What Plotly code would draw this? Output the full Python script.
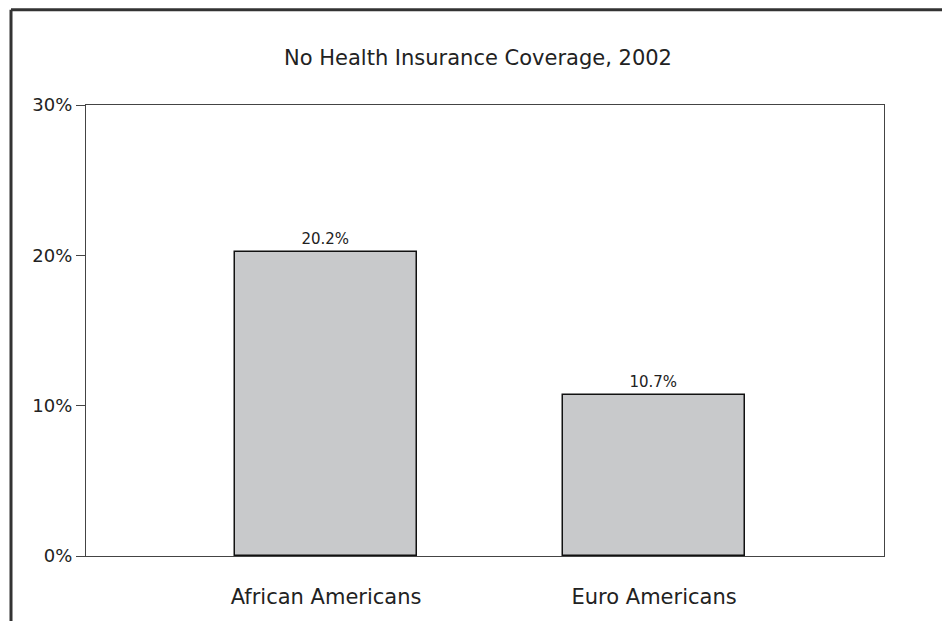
import plotly.graph_objects as go

categories = ["African Americans", "Euro Americans"]
values = [20.2, 10.7]
labels = ["20.2%", "10.7%"]
tick_vals = [0, 10, 20, 30]
tick_text = ["0%", "10%", "20%", "30%"]
title_text = "No Health Insurance Coverage, 2002"

FONT = "DejaVu Sans"
L, T, R, B = 86, 105, 58, 62
W, H = 942, 621
pw, ph = W - L - R, H - T - B

fig = go.Figure()
fig.add_trace(go.Bar(
    x=list(range(len(categories))), y=values, width=0.555,
    marker=dict(color="#c8c9cb", line=dict(color="#111111", width=1.5)),
    text=labels, textposition="outside", cliponaxis=False,
    textfont=dict(family=FONT, size=15, color="#222222"),
    showlegend=False, hoverinfo="skip",
))

fig.update_layout(
    width=W, height=H,
    margin=dict(l=L, t=T, r=R, b=B, pad=0),
    paper_bgcolor="white", plot_bgcolor="white",
    title=dict(text=title_text, x=(478 - L) / pw, xref="paper", xanchor="center",
               y=1 - 58 / H, yanchor="middle",
               font=dict(family=FONT, size=21, color="#222222")),
    font=dict(family=FONT, color="#222222"),
    bargap=0,
)
fig.update_xaxes(
    range=[-0.732, 1.701], tickvals=list(range(len(categories))), ticktext=categories,
    tickfont=dict(family=FONT, size=21, color="#222222"),
    showline=True, linecolor="#444444", linewidth=1.2, mirror=True,
    ticks="", showgrid=False, zeroline=False, ticklabelstandoff=22,
)
fig.update_yaxes(
    range=[0, 30], tickvals=tick_vals, ticktext=tick_text,
    tickfont=dict(family=FONT, size=18, color="#222222"),
    showline=True, linecolor="#444444", linewidth=1.2, mirror=True,
    ticks="outside", ticklen=9, tickcolor="#444444", tickwidth=1.2,
    showgrid=False, zeroline=False,
)

# outer frame (cropped: left and top edges visible)
x_left = (11 - L) / pw
y_top = (H - B - 9) / ph
fig.add_shape(type="line", xref="paper", yref="paper", x0=x_left, x1=x_left,
              y0=y_top, y1=-0.5, line=dict(color="#333333", width=3))
fig.add_shape(type="line", xref="paper", yref="paper", x0=x_left, x1=1.5,
              y0=y_top, y1=y_top, line=dict(color="#333333", width=3))

fig.write_html("out.html", config={"displayModeBar": False},
               post_script="document.body.style.margin='0';document.body.style.overflow='hidden';")
